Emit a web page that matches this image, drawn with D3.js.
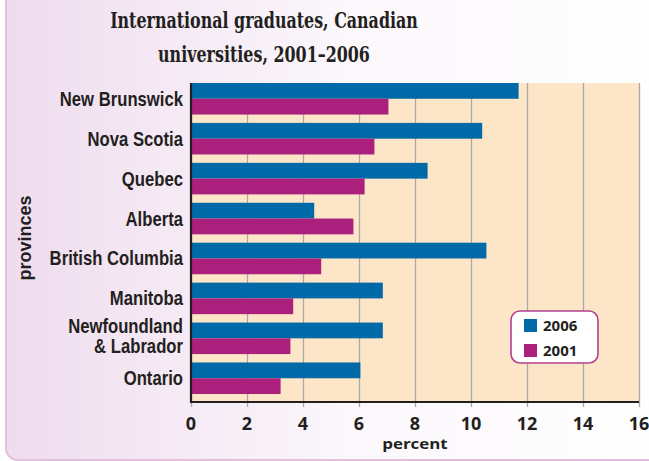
<!DOCTYPE html>
<html>
<head>
<meta charset="utf-8">
<script src="https://cdn.jsdelivr.net/npm/d3@7"></script>
<style>
  body { margin: 0; background: #fff; }
  svg { display: block; }
</style>
</head>
<body>
<div id="chart"></div>
<script>
// data
let provinces = ["New Brunswick", "Nova Scotia", "Quebec", "Alberta", "British Columbia", "Manitoba", "Newfoundland & Labrador", "Ontario"];
let years = ["2006", "2001"];
let values2006 = [11.7, 10.4, 8.45, 4.4, 10.55, 6.85, 6.85, 6.05];
let values2001 = [7.05, 6.55, 6.2, 5.8, 4.65, 3.65, 3.55, 3.2];
let xTicks = [0, 2, 4, 6, 8, 10, 12, 14, 16];
let titleLines = ["International graduates, Canadian", "universities, 2001\u20132006"];

let W = 649, H = 461;
let colors = {"2006": "#0069a7", "2001": "#ab1f7d"};
let ink = "#231f20";

let svg = d3.select("#chart")
  .append("svg")
  .attr("width", W)
  .attr("height", H);

// squeeze a text horizontally around its anchor x so it fills a given width
let fitText = function(sel, anchorX, target) {
  let w = sel.node().getBBox().width;
  let s = target / w;
  sel.attr("transform", "translate(" + anchorX + ",0) scale(" + s + ",1) translate(" + (-anchorX) + ",0)");
  return s;
}

// panel gradient background
let defs = svg.append("defs");
let grad = defs.append("linearGradient").attr("id", "panelGrad")
  .attr("x1", "0%").attr("x2", "100%").attr("y1", "0%").attr("y2", "0%");
grad.append("stop").attr("offset", "0%").attr("stop-color", "#efdcee");
grad.append("stop").attr("offset", "50%").attr("stop-color", "#fbf7fb");
grad.append("stop").attr("offset", "100%").attr("stop-color", "#ffffff");

svg.append("rect")
  .attr("x", 6).attr("y", -20)
  .attr("width", W + 20).attr("height", H + 20 - 1)
  .attr("rx", 12)
  .attr("fill", "url(#panelGrad)")
  .attr("stroke", "#e2bfdc")
  .attr("stroke-width", 2);

let margin = {top: 83, left: 191};
let plotW = 639 - margin.left;
let plotH = 402 - margin.top;

let g = svg.append("g")
  .attr("transform", "translate(" + margin.left + "," + margin.top + ")");

let x = d3.scaleLinear().domain([0, 16]).range([0, plotW]);

let y = d3.scaleBand()
  .domain(provinces)
  .range([0, plotH])
  .paddingInner(0.21)
  .paddingOuter(0.1)
  .align(0);

let ySub = d3.scaleBand().domain(years).range([0, y.bandwidth()]);

// plot background
g.append("rect")
  .attr("x", 0).attr("y", 0)
  .attr("width", plotW).attr("height", plotH)
  .attr("fill", "#fde5c7");

// grid lines + tick marks
g.append("g")
  .attr("transform", "translate(0," + plotH + ")")
  .call(d3.axisBottom(x).tickValues(xTicks).tickSize(-plotH).tickFormat(""))
  .call(a => a.select(".domain").remove())
  .call(a => a.selectAll("line").attr("stroke", "#a9a9a9").attr("stroke-width", 1.3).attr("y2", -plotH).attr("y1", 5));

// bars
let rows = provinces.map((p, i) => ({name: p, "2006": values2006[i], "2001": values2001[i]}));

let groups = g.selectAll(".grp")
  .data(rows)
  .enter()
  .append("g")
  .attr("transform", d => "translate(0," + y(d.name) + ")");

groups.selectAll("rect")
  .data(d => years.map(yr => ({year: yr, value: d[yr]})))
  .enter()
  .append("rect")
  .attr("x", 0)
  .attr("y", d => ySub(d.year))
  .attr("width", d => x(d.value))
  .attr("height", ySub.bandwidth())
  .attr("fill", d => colors[d.year]);

// axes lines
g.append("line")
  .attr("x1", 0).attr("x2", 0).attr("y1", 0).attr("y2", plotH + 1)
  .attr("stroke", ink).attr("stroke-width", 2.2);
g.append("line")
  .attr("x1", -1).attr("x2", plotW).attr("y1", plotH).attr("y2", plotH)
  .attr("stroke", ink).attr("stroke-width", 2.2);

// x tick labels
g.append("g")
  .selectAll("text")
  .data(xTicks)
  .enter()
  .append("text")
  .attr("x", d => x(d))
  .attr("y", plotH + 28)
  .attr("text-anchor", "middle")
  .style("font-family", "'Open Sans', sans-serif")
  .style("font-weight", "bold")
  .style("font-size", "18px")
  .style("fill", ink)
  .text(d => d);

let pct = g.append("text")
  .attr("x", plotW / 2)
  .attr("y", plotH + 47)
  .attr("text-anchor", "middle")
  .style("font-family", "'Open Sans', sans-serif")
  .style("font-weight", "bold")
  .style("font-size", "15px")
  .style("fill", ink)
  .text("percent");
fitText(pct, plotW / 2, 66);

// category labels (condensed by scaling the whole group)
let labelFont = "'Liberation Sans', Arial, sans-serif";
let labels = g.append("g");
rows.forEach(d => {
  let cy = y(d.name) + y.bandwidth() / 2;
  let lines = d.name === "Newfoundland & Labrador" ? ["Newfoundland", "& Labrador"] : [d.name];
  let t = labels.append("text")
    .attr("class", "cat")
    .attr("text-anchor", "end")
    .style("font-family", labelFont)
    .style("font-weight", "bold")
    .style("font-size", "20px")
    .style("fill", ink);
  lines.forEach((ln, k) => {
    t.append("tspan")
      .attr("x", 0)
      .attr("y", lines.length > 1 ? cy + 5 + (k - 0.5) * 20 : cy + 7)
      .text(ln);
  });
});
let nbWidth = labels.select("text.cat").node().getBBox().width;
let k = 124 / nbWidth;
labels.attr("transform", "translate(-8,0) scale(" + k + ",1)");

// y axis title
let prov = svg.append("text")
  .attr("x", 0).attr("y", 0)
  .attr("text-anchor", "middle")
  .style("font-family", labelFont)
  .style("font-weight", "bold")
  .style("font-size", "18px")
  .style("fill", ink)
  .text("provinces");
let provW = prov.node().getBBox().width;
prov.attr("transform", "translate(31,238) rotate(-90) scale(" + (85 / provW) + ",1)");

// title
let titleWidths = [308, 212];
titleLines.forEach((ln, i) => {
  let t = svg.append("text")
    .attr("x", 264)
    .attr("y", 28 + i * 34)
    .attr("text-anchor", "middle")
    .style("font-family", "'DejaVu Serif', serif")
    .style("font-weight", "bold")
    .style("font-size", "22px")
    .style("fill", ink)
    .text(ln);
  fitText(t, 264, titleWidths[i]);
});

// legend
let leg = svg.append("g").attr("transform", "translate(511,311)");
leg.append("rect")
  .attr("width", 87).attr("height", 52)
  .attr("rx", 9)
  .attr("fill", "#fff")
  .attr("stroke", "#b4408e")
  .attr("stroke-width", 1.6);
years.forEach((yr, i) => {
  leg.append("rect")
    .attr("x", 13).attr("y", 8 + i * 25)
    .attr("width", 13).attr("height", 13)
    .attr("fill", colors[yr]);
  leg.append("text")
    .attr("x", 32).attr("y", 20 + i * 25)
    .style("font-family", "'Open Sans', sans-serif")
    .style("font-weight", "bold")
    .style("font-size", "15px")
    .style("fill", ink)
    .text(yr);
});
</script>
</body>
</html>
